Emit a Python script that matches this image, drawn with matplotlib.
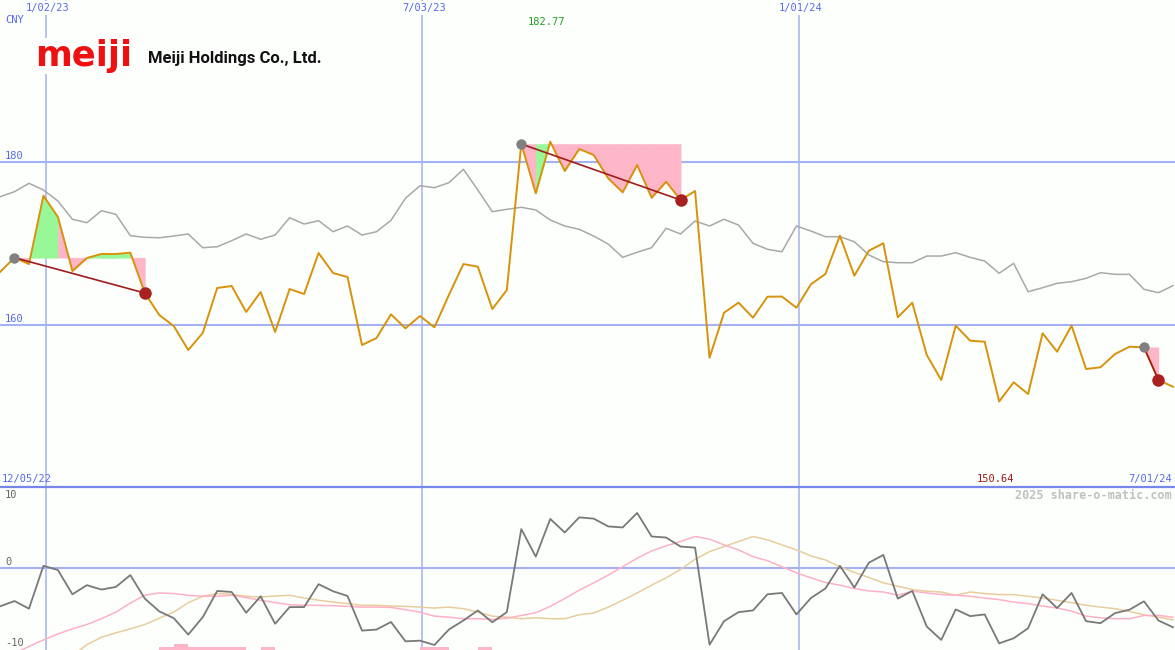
import numpy as np
import pandas as pd
import matplotlib as mpl
mpl.use("Agg")
import matplotlib.pyplot as plt

mpl.rcParams.update({"font.family": "DejaVu Sans Mono", "font.size": 7.5})

BG = "#fdfffd"
GRID = "#a4b2f2"
SEP = "#7686ea"
LBL = "#5868ee"

# weekly closes, Sundays from 12/11/22 to 6/30/24
dates = pd.date_range("2022-12-11", "2024-06-30", freq="7D")
price = [166.49, 168.25, 167.47, 175.84, 173.23, 166.62, 168.21, 168.70, 168.70, 168.86,
         163.92, 161.23, 159.88, 156.94, 159.03, 164.54, 164.78, 161.60, 164.05, 159.15,
         164.41, 163.80, 168.82, 166.37, 165.88, 157.56, 158.41, 161.31, 159.60, 161.11,
         159.72, 163.68, 167.47, 167.14, 161.96, 164.29, 182.17, 176.13, 182.45, 178.86,
         181.56, 180.82, 177.97, 176.25, 179.60, 175.59, 177.55, 175.31, 176.41, 156.00,
         161.51, 162.74, 160.90, 163.47, 163.49, 162.12, 164.99, 166.25, 170.94, 166.04,
         169.10, 170.01, 160.95, 162.74, 156.33, 153.27, 159.92, 158.08, 157.96, 150.64,
         152.99, 151.56, 158.99, 156.74, 159.92, 154.62, 154.83, 156.45, 157.35, 157.27,
         153.27, 152.45]
avg = [175.71, 176.33, 177.36, 176.53, 175.19, 172.95, 172.53, 174.00, 173.56, 170.94,
       170.74, 170.69, 170.90, 171.15, 169.47, 169.59, 170.33, 171.15, 170.50, 171.02,
       173.14, 172.37, 172.78, 171.43, 172.13, 171.02, 171.43, 172.82, 175.52, 177.06,
       176.82, 177.43, 179.07, 176.53, 173.88, 174.17, 174.42, 174.09, 172.86, 172.13,
       171.72, 170.90, 169.92, 168.29, 168.91, 169.47, 171.85, 171.15, 172.74, 172.13,
       172.95, 172.25, 170.01, 169.27, 168.98, 172.13, 171.51, 170.82, 170.82, 170.20,
       168.58, 167.76, 167.63, 167.63, 168.45, 168.45, 168.86, 168.29, 167.84, 166.34,
       167.56, 164.08, 164.57, 165.11, 165.31, 165.72, 166.41, 166.21, 166.21, 164.38,
       163.96, 164.82]
mom = [-5.21, -4.49, -5.52, 0.27, -0.31, -3.58, -2.35, -2.94, -2.59, -0.99,
       -4.16, -5.89, -6.80, -9.02, -6.67, -3.13, -3.27, -6.07, -3.85, -7.56,
       -5.31, -5.31, -2.22, -3.17, -3.81, -8.48, -8.34, -7.32, -9.93, -9.84,
       -10.42, -8.34, -7.12, -5.76, -7.35, -5.99, 5.22, 1.50, 6.59, 4.76,
       6.80, 6.63, 5.58, 5.44, 7.40, 4.22, 4.08, 2.86, 2.72, -10.38,
       -7.21, -5.99, -5.76, -3.58, -3.40, -6.30, -4.08, -2.80, 0.27, -2.67,
       0.68, 1.73, -4.16, -3.13, -7.93, -9.74, -5.62, -6.53, -6.30, -10.20,
       -9.52, -8.16, -3.58, -5.44, -3.40, -7.21, -7.48, -6.12, -5.66, -4.53,
       -7.12, -8.03]
mom_fast = [np.nan, -11.56, -10.63, -9.74, -8.93, -8.24, -7.66, -6.88, -5.99, -4.76,
            -3.71, -3.40, -3.48, -3.71, -3.85, -3.85, -3.71, -4.03, -4.39, -4.71,
            -4.98, -5.07, -5.07, -5.12, -5.21, -5.31, -5.31, -5.35, -5.66, -5.99,
            -6.53, -6.67, -6.88, -6.88, -6.98, -6.80, -6.44, -6.07, -5.21, -4.16,
            -3.03, -2.04, -0.99, 0.14, 1.28, 2.27, 2.95, 3.54, 4.22, 3.86,
            3.09, 2.41, 1.50, 0.95, 0.14, -0.68, -1.36, -1.99, -2.35, -2.80,
            -3.13, -3.27, -3.71, -3.17, -3.40, -3.62, -3.71, -3.85, -4.08, -4.30,
            -4.63, -4.84, -5.17, -5.44, -5.85, -6.53, -6.75, -6.88, -6.88, -6.44,
            -6.44, -6.67]
mom_slow = [np.nan, np.nan, np.nan, np.nan, np.nan, -11.9, -10.38, -9.39, -8.79, -8.24,
            -7.66, -6.80, -5.99, -4.71, -3.85, -3.48, -3.58, -3.85, -3.95, -3.81,
            -3.71, -4.08, -4.39, -4.63, -4.84, -5.07, -5.07, -5.17, -5.21, -5.31,
            -5.44, -5.31, -5.52, -5.99, -6.53, -6.67, -6.88, -6.75, -6.88, -6.88,
            -6.34, -6.12, -5.31, -4.39, -3.40, -2.35, -1.36, -0.22, 1.14, 2.18,
            2.86, 3.54, 4.22, 3.77, 3.09, 2.41, 1.59, 1.05, 0.14, -0.63,
            -1.31, -2.04, -2.49, -2.94, -3.17, -3.27, -3.71, -3.27, -3.48, -3.62,
            -3.62, -3.85, -4.08, -4.39, -4.71, -5.07, -5.31, -5.52, -5.89, -6.34,
            -6.67, -7.02]
# small signal bars along the bottom edge (week index -> height)
sig_weeks = [11, 12, 13, 14, 15, 16, 18, 29, 30, 33]
sig_height = [0.41, 0.82, 0.41, 0.41, 0.41, 0.41, 0.41, 0.41, 0.41, 0.41]
# trades: (entry week, exit week)
trades = [(1, 10), (36, 47), (79, 80)]
grid_dates = ["2023-01-02", "2023-07-03", "2024-01-01"]
grid_labels = ["1/02/23", "7/03/23", "1/01/24"]

price = np.array(price)
x0, x1 = pd.Timestamp("2022-12-11"), pd.Timestamp("2024-07-01")
top_lim = (140.17, 199.8)
bot_lim = (-11.1, 10.9)

fig = plt.figure(figsize=(11.75, 6.5), dpi=100, facecolor=BG)
ax1 = fig.add_axes([0, 163 / 650, 1, 487 / 650], facecolor=BG)
ax2 = fig.add_axes([0, 0, 1, 163 / 650], facecolor=BG)
for ax, lim in ((ax1, top_lim), (ax2, bot_lim)):
    ax.set_xlim(x0, x1)
    ax.set_ylim(lim)
    ax.set_xticks([]); ax.set_yticks([])
    for s in ax.spines.values():
        s.set_visible(False)
    for d in grid_dates:
        ax.axvline(pd.Timestamp(d), color=GRID, lw=1.1, zorder=1)
ax2.spines["top"].set_visible(True)
ax2.spines["top"].set_color(SEP)
ax2.spines["top"].set_linewidth(1.6)
ax1.axhline(180, color=GRID, lw=1.5, zorder=1)
ax1.axhline(160, color=GRID, lw=1.5, zorder=1)
ax2.axhline(0, color=GRID, lw=1.5, zorder=1)

# ---- top panel
for a, b in trades:
    entry = price[a]
    for k in range(a, b):
        col = "#98f898" if price[k + 1] >= entry else "#fdb6c8"
        ax1.fill_between(dates[k:k + 2], price[k:k + 2], entry, facecolor=col,
                         edgecolor=col, lw=0.4, zorder=2)
ax1.plot(dates, avg, color="#a8a8a8", lw=1.1, zorder=3)
ax1.plot(dates, price, color="#d8920a", lw=1.4, zorder=4)
for a, b in trades:
    ax1.plot([dates[a], dates[b]], [price[a], price[b]], color="#a01c1c", lw=1.2, zorder=5)
    ax1.plot(dates[a], price[a], "o", color="#808080", ms=7.5, mec="none", zorder=6)
    ax1.plot(dates[b], price[b], "o", color="#a82020", ms=9, mec="none", zorder=6)

tx = ax1.get_xaxis_transform()
for d, lab in zip(grid_dates, grid_labels):
    ax1.text(pd.Timestamp(d) + pd.Timedelta(days=1), 1 - 8 / 487, lab, transform=tx,
             ha="center", va="center", color=LBL, zorder=7,
             bbox=dict(facecolor=BG, edgecolor="none", pad=1.5))
ax1.text(5 / 1175, 1 - 20 / 487, "CNY", transform=ax1.transAxes, color=LBL, va="center")
ax1.text(5 / 1175, 180.7, "180", transform=ax1.get_yaxis_transform(), color=LBL, va="center")
ax1.text(5 / 1175, 160.7, "160", transform=ax1.get_yaxis_transform(), color=LBL, va="center")
imax, imin = int(np.argmax(price)), int(np.argmin(price))
ax1.text(dates[imax] - pd.Timedelta(days=2), 1 - 22 / 487, "182.77", transform=tx,
         ha="center", va="center", color="#22a022")
ax1.text(dates[imin] - pd.Timedelta(days=2), 1 - 479 / 487, f"{price[imin]:.2f}", transform=tx,
         ha="center", va="center", color="#a01818")
ax1.text(2 / 1175, 1 - 479 / 487, "12/05/22", transform=ax1.transAxes, color=LBL, va="center")
ax1.text(1172 / 1175, 1 - 479 / 487, "7/01/24", transform=ax1.transAxes, color=LBL,
         va="center", ha="right")

# logo
fig.text(35 / 1175, 1 - 66 / 650, "meiji", color="#ee1111", fontsize=25.5, fontweight="bold",
         family="DejaVu Sans", va="baseline", ha="left", zorder=8,
         bbox=dict(facecolor=BG, edgecolor="none", pad=1))
fig.text(148 / 1175, 1 - 63 / 650, "Meiji Holdings Co., Ltd.", color="#111111", fontsize=12,
         fontweight="semibold", family=["Roboto", "DejaVu Sans"], va="baseline", ha="left")

# ---- bottom panel
ax2.bar(dates[sig_weeks], sig_height, width=7, align="edge", bottom=bot_lim[0],
        color="#fdb6c8", lw=0, zorder=2)
ax2.plot(dates, mom_slow, color="#e8cc9c", lw=1.1, zorder=3)
ax2.plot(dates, mom_fast, color="#fdb0c6", lw=1.1, zorder=3)
ax2.plot(dates, mom, color="#787878", lw=1.3, zorder=4)
ty = ax2.get_yaxis_transform()
ax2.text(5 / 1175, 9.76, "10", transform=ty, color="#666666", va="center")
ax2.text(5 / 1175, 0.8, "0", transform=ty, color="#666666", va="center")
ax2.text(5 / 1175, -10.18, "-10", transform=ty, color="#666666", va="center")
ax2.text(1172 / 1175, 9.76, "2025 share-o-matic.com", transform=ty, color="#c0c0c0",
         fontsize=8.5, fontweight="bold", ha="right", va="center")

fig.savefig("out.png", dpi=100, facecolor=BG)
